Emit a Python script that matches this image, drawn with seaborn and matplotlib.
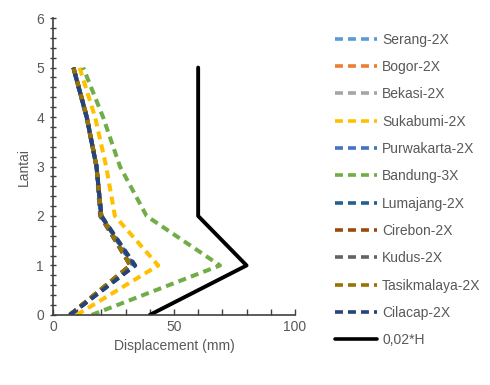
import matplotlib
matplotlib.use("Agg")
import matplotlib.pyplot as plt
import seaborn as sns
import pandas as pd
import numpy as np
from matplotlib.ticker import MultipleLocator
from matplotlib.lines import Line2D

sns.set_style("white")
plt.rcParams['font.family'] = ['Liberation Sans', 'DejaVu Sans']

floors = [0, 1, 2, 3, 4, 5]
series_names = ["Serang-2X", "Bogor-2X", "Bekasi-2X", "Sukabumi-2X", "Purwakarta-2X",
                "Bandung-3X", "Lumajang-2X", "Cirebon-2X", "Kudus-2X", "Tasikmalaya-2X",
                "Cilacap-2X", "0,02*H"]
serang = [7, 33, 20, 18, 14, 8.5]
bogor = [7, 32, 20, 18, 14, 8.5]
bekasi = [7, 32, 20, 18, 14, 8.5]
sukabumi = [9.8, 43.5, 25.6, 22, 17.4, 11]
purwakarta = [7, 33.5, 20, 18, 14, 8.5]
bandung = [16, 69, 38.7, 27.7, 20.7, 12.5]
lumajang = [7, 33.5, 20, 18, 14, 8.4]
cirebon = [7, 32, 20, 18, 14, 8.5]
kudus = [7, 32, 19.5, 18, 13.8, 8.4]
tasikmalaya = [7, 32, 20, 18, 14, 8.5]
cilacap = [7, 34, 20, 18, 13.9, 8.4]
limit_floors = [0, 1, 2, 5]
limit = [40, 80, 60, 60]

values = [serang, bogor, bekasi, sukabumi, purwakarta, bandung, lumajang,
          cirebon, kudus, tasikmalaya, cilacap]
colors = ["#5B9BD5", "#ED7D31", "#A5A5A5", "#FFC000", "#4472C4", "#70AD47",
          "#255E91", "#9E480E", "#636363", "#997300", "#264478", "#000000"]

fig = plt.figure(figsize=(4.9, 3.85), dpi=100)
ax = fig.add_axes([0.108, 0.182, 0.494, 0.771])

dash = (2.0, 1.3)
handles = []
for name, vals, col in zip(series_names[:-1], values, colors[:-1]):
    df = pd.DataFrame({"disp": vals, "floor": floors})
    sns.lineplot(data=df, x="disp", y="floor", sort=False, orient="y", ax=ax,
                 color=col, linewidth=2.9, linestyle=(0, dash), legend=False)
    handles.append(Line2D([], [], color=col, linewidth=2.6, linestyle=(0, (2.2, 1.4))))
dfl = pd.DataFrame({"disp": limit, "floor": limit_floors})
sns.lineplot(data=dfl, x="disp", y="floor", sort=False, orient="y", ax=ax,
             color="black", linewidth=2.8, legend=False)
handles.append(Line2D([], [], color="black", linewidth=2.6))

ax.set_xlim(0, 100)
ax.set_ylim(0, 6)
ax.xaxis.set_major_locator(MultipleLocator(50))
ax.xaxis.set_minor_locator(MultipleLocator(10))
ax.yaxis.set_major_locator(MultipleLocator(1))
ax.yaxis.set_minor_locator(MultipleLocator(0.2))
ax.tick_params(axis='x', which='both', direction='in', length=4, width=1, color='#404040',
               labelsize=10, labelcolor='#595959', pad=4)
ax.tick_params(axis='y', which='both', direction='inout', length=5, width=1, color='#404040',
               labelsize=10, labelcolor='#595959', pad=4)
ax.tick_params(bottom=True, left=True, which='both')
for s in ['top', 'right']:
    ax.spines[s].set_visible(False)
for s in ['left', 'bottom']:
    ax.spines[s].set_color('#404040')
    ax.spines[s].set_linewidth(1.2)
ax.set_xlabel("Displacement (mm)", fontsize=10, color='#595959', labelpad=3)
ax.set_ylabel("Lantai", fontsize=10, color='#595959', labelpad=4)

fig.legend(handles, series_names, loc='upper left', bbox_to_anchor=(0.672, 0.93),
           frameon=False, fontsize=10, labelcolor='#595959', handlelength=3.0,
           handletextpad=0.4, labelspacing=0.96, borderaxespad=0)

fig.savefig("out.png", dpi=100)
